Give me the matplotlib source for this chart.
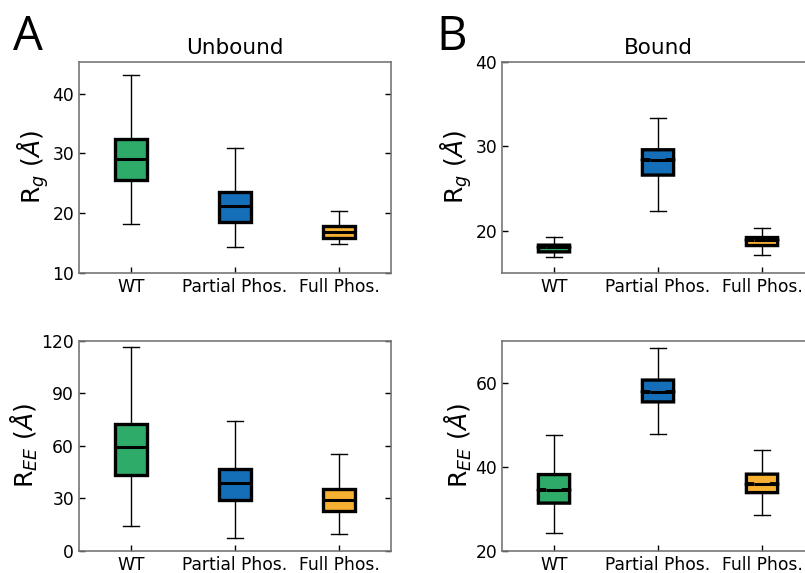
import matplotlib
matplotlib.use("Agg")
import matplotlib.pyplot as plt

groups = ["WT", "Partial Phos.", "Full Phos."]
colors = ["#2eab68", "#156fb8", "#f7b132"]

# box stats: [whislo, q1, med, q3, whishi]
rg_unbound = [[18.2, 25.5, 29.0, 32.5, 43.1],
              [14.4, 18.5, 21.2, 23.6, 30.9],
              [14.8, 15.9, 16.8, 17.8, 20.4]]
rg_bound = [[16.9, 17.5, 18.05, 18.3, 19.3],
            [22.4, 26.6, 28.4, 29.6, 33.4],
            [17.1, 18.25, 18.9, 19.2, 20.3]]
ree_unbound = [[14.1, 43.4, 59.3, 72.4, 116.4],
               [7.3, 29.0, 38.9, 47.1, 74.1],
               [9.9, 22.9, 29.4, 35.6, 55.6]]
ree_bound = [[24.4, 31.4, 34.5, 38.2, 47.5],
             [47.9, 55.5, 57.9, 60.7, 68.3],
             [28.6, 33.9, 35.9, 38.3, 44.1]]


def make_stats(vals, ci):
    out = []
    for lo, q1, med, q3, hi in vals:
        out.append(dict(whislo=lo, q1=q1, med=med, q3=q3, whishi=hi,
                        cilo=med - ci, cihi=med + ci, fliers=[]))
    return out


def draw(ax, vals, ylim, yticks, ylabel, notch, ci):
    bp = ax.bxp(make_stats(vals, ci), positions=[1, 2, 3], widths=0.3,
                showfliers=False, shownotches=notch, patch_artist=True,
                boxprops=dict(linewidth=2.4, edgecolor="black"),
                medianprops=dict(linewidth=2.2, color="black"),
                whiskerprops=dict(linewidth=1.0, color="black"),
                capprops=dict(linewidth=1.0, color="black"))
    for patch, c in zip(bp["boxes"], colors):
        patch.set_facecolor(c)
    ax.set_xlim(0.5, 3.5)
    ax.set_ylim(*ylim)
    ax.set_yticks(yticks)
    ax.set_xticks([1, 2, 3])
    ax.set_xticklabels(groups)
    ax.tick_params(direction="in", right=True, top=False, labelsize=12.3,
                   length=4, width=1)
    for s in ax.spines.values():
        s.set_color("#777777")
        s.set_linewidth(1.2)
    ax.set_ylabel(ylabel, fontsize=18, labelpad=1)


fig = plt.figure(figsize=(8.05, 5.73), dpi=100)
w = 0.3876
ax1 = fig.add_axes([0.0981, 0.5236, w, 0.3682])
ax2 = fig.add_axes([0.6236, 0.5236, w, 0.3682])
ax3 = fig.add_axes([0.0981, 0.0384, w, 0.3665])
ax4 = fig.add_axes([0.6236, 0.0384, w, 0.3665])

draw(ax1, rg_unbound, (10, 45.3), [10, 20, 30, 40], r"R$_g$ ($\AA$)", False, 0.1)
draw(ax2, rg_bound, (15, 40), [20, 30, 40], r"R$_g$ ($\AA$)", True, 0.04)
draw(ax3, ree_unbound, (0, 120), [0, 30, 60, 90, 120], r"R$_{EE}$ ($\AA$)", False, 0.5)
draw(ax4, ree_bound, (20, 70), [20, 40, 60], r"R$_{EE}$ ($\AA$)", True, 0.08)

ax1.set_title("Unbound", fontsize=15.5)
ax2.set_title("Bound", fontsize=15.5)

fig.text(0.016, 0.913, "A", fontsize=34, family="Open Sans")
fig.text(0.542, 0.913, "B", fontsize=34, family="Open Sans")

fig.savefig("out.png", dpi=100)
